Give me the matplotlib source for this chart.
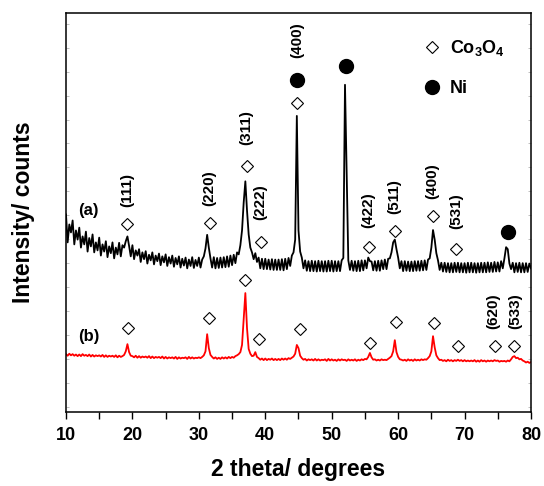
import numpy as np
import matplotlib
matplotlib.use('Agg')
import matplotlib.pyplot as plt
from matplotlib.ticker import MultipleLocator, FixedLocator

plt.rcParams['font.family'] = 'Liberation Sans'
plt.rcParams['font.weight'] = 'bold'
plt.rcParams['mathtext.fontset'] = 'custom'
plt.rcParams['mathtext.rm'] = 'Liberation Sans:bold'
plt.rcParams['mathtext.it'] = 'Liberation Sans:bold'
plt.rcParams['mathtext.bf'] = 'Liberation Sans:bold'

##Data## (2 theta from 10 to 80 deg, 0.25 deg step, intensities)
two_theta = np.arange(10, 80.001, 0.25)

# (a) Co3O4 on Ni
sample_a = [
    495, 425, 470, 450,  480, 420, 455, 432,  462, 412, 440, 420,  452, 402, 436, 415,  # 10-13
    445, 400, 425, 405,  437, 392, 420, 402,  428, 388, 415, 398,  425, 385, 412, 395,  # 14-17
    424, 390, 418, 412,  428, 440, 416, 390,  418, 383, 405, 392,  408, 376, 400, 383,  # 18-21
    403, 372, 394, 380,  400, 370, 392, 378,  397, 368, 390, 375,  395, 366, 388, 372,  # 22-25
    392, 364, 386, 370,  390, 362, 384, 367,  387, 360, 382, 366,  388, 361, 381, 366,  # 26-29
    387, 362, 382, 390,  410, 444, 412, 385,  362, 388, 360, 386,  361, 387, 362, 388,  # 30-33
    363, 390, 364, 392,  368, 394, 373, 400,  395, 418, 455, 525,  578, 505, 445, 412,  # 34-37
    400, 383, 398, 376,  387, 360, 384, 358,  384, 358, 382, 357,  383, 356, 382, 356,  # 38-41
    382, 356, 383, 355,  384, 358, 386, 366,  392, 400, 432, 742,  455, 402, 387, 360,  # 42-45
    380, 354, 378, 353,  379, 353, 378, 352,  379, 353, 378, 352,  378, 352, 379, 353,  # 46-49
    379, 352, 378, 353,  378, 353, 380, 386,  820, 600, 380, 356,  379, 354, 378, 353,  # 50-53
    379, 353, 380, 355,  380, 360, 387, 378,  377, 355, 378, 354,  379, 354, 380, 358,  # 54-57
    382, 358, 384, 385,  400, 425, 432, 408,  387, 360, 378, 353,  378, 354, 377, 353,  # 58-61
    377, 353, 378, 354,  378, 354, 379, 355,  380, 356, 382, 385,  412, 456, 432, 398,  # 62-65
    380, 356, 374, 352,  374, 351, 373, 350,  373, 350, 374, 351,  374, 350, 373, 350,  # 66-69
    373, 349, 374, 350,  374, 350, 373, 349,  373, 350, 374, 350,  374, 350, 375, 351,  # 70-73
    374, 351, 376, 352,  375, 352, 378, 360,  385, 413, 408, 372,  358, 374, 350, 373,  # 74-77
    351, 374, 350, 373,  350, 373, 351, 372,  360]                                     # 78-80

# (b) Co3O4
sample_b = [
    145, 141, 146, 142,  145, 141, 144, 140,  144, 140, 145, 141,  143, 140, 144, 139,  # 10-13
    143, 139, 142, 140,  142, 139, 143, 138,  142, 138, 141, 139,  141, 138, 142, 137,  # 14-17
    141, 138, 140, 143,  152, 170, 150, 141,  140, 137, 141, 136,  140, 136, 139, 137,  # 18-21
    139, 136, 140, 135,  139, 135, 138, 136,  138, 135, 139, 134,  138, 134, 137, 135,  # 22-25
    137, 134, 138, 133,  137, 134, 136, 135,  137, 133, 138, 134,  137, 134, 136, 135,  # 26-29
    137, 135, 138, 142,  152, 195, 160, 143,  138, 134, 137, 133,  136, 133, 137, 134,  # 30-33
    137, 134, 138, 135,  138, 136, 140, 142,  145, 150, 168, 235,  298, 210, 158, 146,  # 34-37
    140, 141, 150, 138,  135, 131, 134, 130,  134, 130, 133, 131,  134, 130, 133, 130,  # 38-41
    133, 130, 134, 131,  134, 131, 135, 133,  136, 139, 146, 168,  160, 141, 135, 131,  # 42-45
    133, 129, 132, 130,  132, 129, 133, 129,  132, 129, 131, 130,  132, 128, 133, 129,  # 46-49
    132, 129, 131, 128,  132, 129, 132, 130,  131, 128, 132, 129,  131, 129, 132, 128,  # 50-53
    131, 129, 132, 130,  133, 132, 138, 148,  137, 131, 132, 129,  131, 129, 132, 130,  # 54-57
    131, 130, 133, 136,  140, 152, 180, 150,  138, 132, 131, 129,  131, 128, 132, 129,  # 58-61
    131, 128, 132, 129,  131, 129, 132, 130,  132, 131, 135, 140,  152, 190, 162, 142,  # 62-65
    135, 130, 131, 128,  130, 127, 131, 128,  130, 127, 130, 128,  131, 128, 130, 127,  # 66-69
    130, 127, 129, 127,  129, 127, 130, 126,  129, 126, 130, 127,  129, 126, 129, 127,  # 70-73
    129, 127, 130, 128,  129, 126, 128, 127,  128, 126, 129, 127,  132, 138, 140, 135,  # 74-77
    136, 132, 133, 129,  127, 124, 126, 123,  125]                                     # 78-80

# peak markers
co_a_x = [19.2, 31.7, 37.2, 39.4, 44.8, 55.6, 59.5, 65.3, 68.7]
co_a_y = [471, 474, 616, 426, 774, 413, 454, 491, 408]
ni_a_x = [44.8, 52.1, 76.5]
ni_a_y = [832, 867, 451]
co_b_x = [19.3, 31.5, 37.0, 39.1, 45.2, 55.8, 59.7, 65.4, 69.0, 74.6, 77.4]
co_b_y = [210, 236, 331, 183, 208, 173, 226, 223, 165, 165, 165]

# Miller indices
hkl_a = ['(111)', '(220)', '(311)', '(222)', '(400)', '(422)', '(511)', '(400)', '(531)']
hkl_a_x = [19.2, 31.5, 37.2, 39.2, 44.8, 55.5, 59.4, 65.1, 68.7]
hkl_a_y = [556, 561, 712, 526, 932, 506, 541, 579, 504]
hkl_b = ['(620)', '(533)']
hkl_b_x = [74.3, 77.6]
hkl_b_y = [253, 253]

fig = plt.figure(figsize=(5.44, 4.86), dpi=100)
ax = fig.add_axes([0.1213, 0.1523, 0.8548, 0.821])

ax.plot(two_theta, sample_a, color='black', lw=1.3)
ax.plot(two_theta, sample_b, color='red', lw=1.3)

ax.plot(co_a_x, co_a_y, ls='none', marker='D', ms=6.6, mfc='white', mec='black', mew=0.8,
        label=r'Co$_3$O$_4$')
ax.plot(ni_a_x, ni_a_y, ls='none', marker='o', ms=10, color='black', label='Ni')
ax.plot(co_b_x, co_b_y, ls='none', marker='D', ms=6.6, mfc='white', mec='black', mew=0.8)

for lbl, x, y in zip(hkl_a + hkl_b, hkl_a_x + hkl_b_x, hkl_a_y + hkl_b_y):
    ax.text(x, y, lbl, rotation=90, ha='center', va='center', fontsize=11, fontweight='bold')

ax.text(13.4, 506, '(a)', ha='center', va='center', fontsize=12, fontweight='bold')
ax.text(13.5, 188, '(b)', ha='center', va='center', fontsize=12, fontweight='bold')

ax.set_xlim(10, 80)
ax.set_ylim(0, 1000)
ax.xaxis.set_major_locator(MultipleLocator(10))
ax.xaxis.set_minor_locator(MultipleLocator(5))
ax.yaxis.set_major_locator(FixedLocator(np.arange(13, 1000, 60)))
ax.tick_params(axis='x', which='both', direction='out', length=5, width=1, labelsize=13, pad=6)
ax.tick_params(axis='y', direction='in', length=2.5, width=0.5, color='0.65',
               left=True, right=True, labelleft=False)
for s in ax.spines.values():
    s.set_linewidth(1.1)

ax.set_xlabel('2 theta/ degrees', fontsize=16.5, fontweight='bold', labelpad=10)
ax.set_ylabel('Intensity/ counts', fontsize=16.5, fontweight='bold', labelpad=22)

ax.legend(loc='upper left', bbox_to_anchor=(0.755, 0.955), frameon=False, fontsize=13,
          handlelength=0.8, handletextpad=0.6, labelspacing=1.2, numpoints=1, borderaxespad=0)

fig.savefig('out.png', dpi=100)
